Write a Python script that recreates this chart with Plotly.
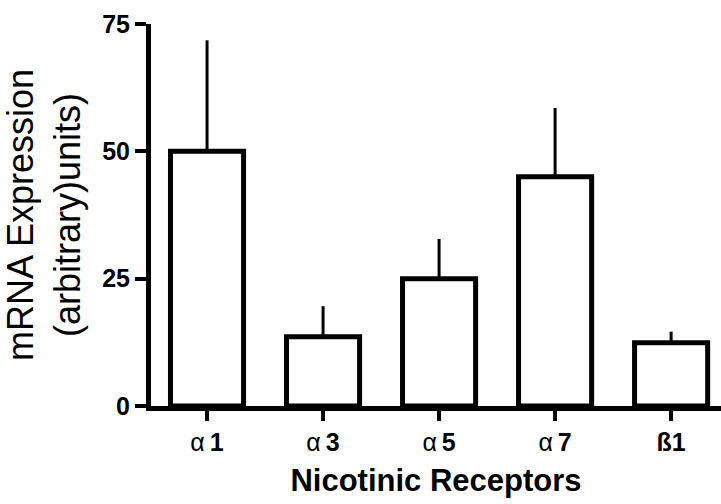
import plotly.graph_objects as go

# Receptor subunits and their mRNA expression (mean and upper error)
receptors = ["α1", "α3", "α5", "α7", "ß1"]
expression = [50.0, 13.6, 25.0, 45.0, 12.4]
error_up = [21.8, 6.0, 7.8, 13.5, 2.2]

y_ticks = [0, 25, 50, 75]

font_family = "Arial, Liberation Sans, Helvetica, sans-serif"


def tick_label(name):
    # Greek letter in regular weight, subunit number in bold
    if name.startswith("α"):
        return "α\u2009<b>" + name[1:] + "</b>"
    return "<b>" + name + "</b>"


fig = go.Figure(
    go.Bar(
        x=list(range(len(receptors))),
        y=expression,
        width=0.63,
        marker=dict(color="white", line=dict(color="black", width=5)),
        error_y=dict(
            type="data",
            symmetric=False,
            array=error_up,
            arrayminus=[0] * len(error_up),
            color="black",
            thickness=3,
            width=0,
        ),
        showlegend=False,
    )
)

fig.update_layout(
    width=721,
    height=504,
    margin=dict(l=151, r=0, t=24, b=98),
    paper_bgcolor="white",
    plot_bgcolor="white",
    font=dict(family=font_family, color="black"),
)

fig.update_xaxes(
    range=[-0.483, 4.43],
    tickvals=list(range(len(receptors))),
    ticktext=[tick_label(r) for r in receptors],
    tickfont=dict(size=25),
    showline=True,
    linecolor="black",
    linewidth=5,
    ticks="outside",
    ticklen=10,
    tickwidth=4,
    tickcolor="black",
    showgrid=False,
    zeroline=False,
    title=dict(
        text="Nicotinic Receptors",
        font=dict(size=31, weight="bold"),
        standoff=16,
    ),
)

fig.update_yaxes(
    range=[0, 75],
    tickvals=y_ticks,
    tickfont=dict(size=25, weight="bold"),
    showline=True,
    linecolor="black",
    linewidth=5,
    ticks="outside",
    ticklen=11,
    tickwidth=4,
    tickcolor="black",
    showgrid=False,
    zeroline=False,
    title=dict(
        text="mRNA Expression<br>(arbitrary)units)",
        font=dict(size=36),
        standoff=12,
    ),
)

fig.write_html("out.html")
